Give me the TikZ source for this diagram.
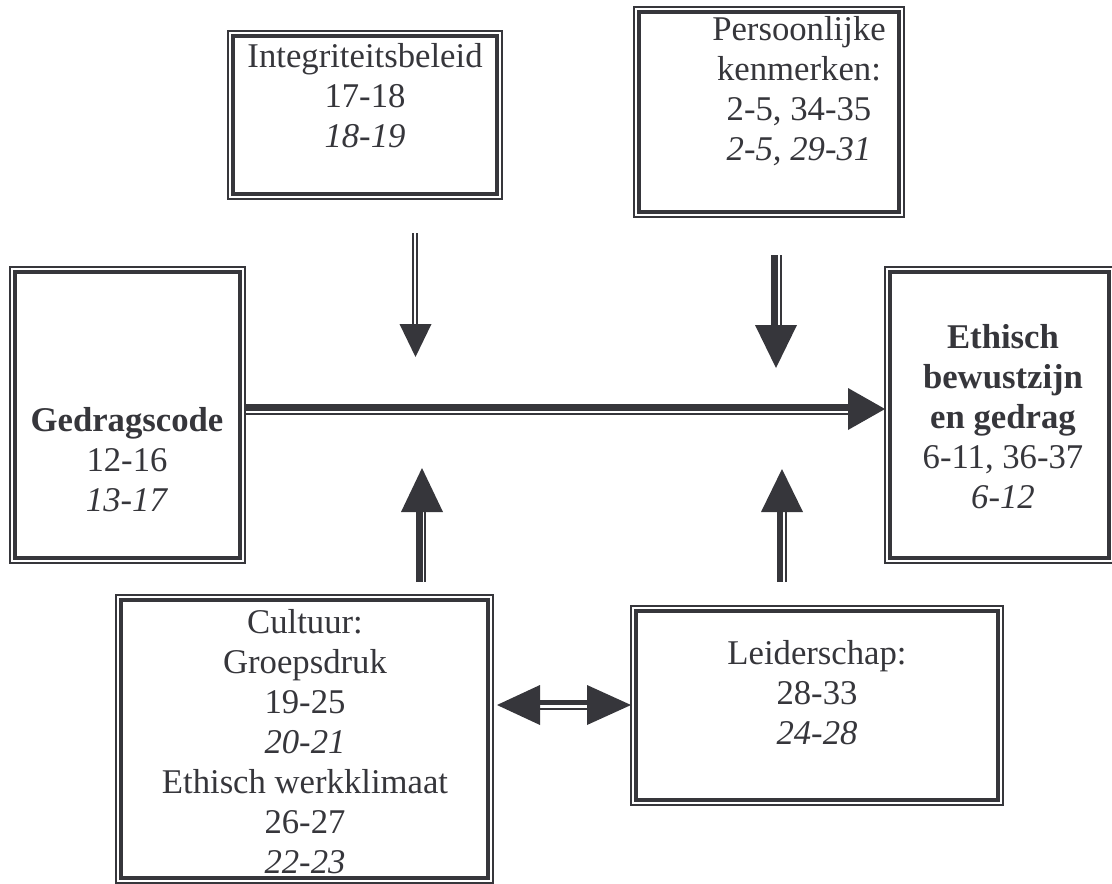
\documentclass[tikz,border=0pt]{standalone}
\usepackage{fontspec}
\setmainfont{Liberation Serif}
\definecolor{ink}{RGB}{54,54,59}
\begin{document}
\begin{tikzpicture}[x=1pt,y=-1pt,
  frame/.style={draw=ink,line width=1.6pt,inner sep=0pt,outer sep=0pt,anchor=north west},
  txt/.style={text=ink,align=center,inner sep=0pt,font=\fontsize{34.7pt}{40pt}\selectfont},
  heavy/.style={draw=ink,line width=6.5pt},
  light/.style={draw=ink,line width=2pt},
  tip/.style={fill=ink}]
\path[use as bounding box] (0,0) rectangle (1112,884);

% outer frames (thin line), named boxes
\node[frame,minimum width=274pt,minimum height=168pt] (bInt) at (228,31) {};
\node[frame,minimum width=270pt,minimum height=210pt] (bPer) at (634,7) {};
\node[frame,minimum width=235pt,minimum height=296pt] (bGed) at (10,267) {};
\node[frame,minimum width=229pt,minimum height=296pt] (bEth) at (885,267) {};
\node[frame,minimum width=377pt,minimum height=288pt] (bCul) at (116,595) {};
\node[frame,minimum width=372pt,minimum height=199pt] (bLei) at (631,606) {};

% inner frames (thick line)
\foreach \b in {bInt,bPer,bGed,bEth,bCul,bLei}
  \draw[ink,line width=4pt] ([shift={(5.3,5.3)}]\b.north west) rectangle ([shift={(-5.3,-5.3)}]\b.south east);

% texts
\node[txt] (tInt) at (365,96) {Integriteitsbeleid\\17-18\\\textit{18-19}};
\node[txt] (tPer) at (799,91) {Persoonlijke\\kenmerken:\\2-5, 34-35\\\textit{2-5, 29-31}};
\node[txt] (tGed) at (127,460) {\textbf{Gedragscode}\\12-16\\\textit{13-17}};
\node[txt] (tEth) at (1003,417) {\textbf{Ethisch}\\\textbf{bewustzijn}\\\textbf{en gedrag}\\6-11, 36-37\\\textit{6-12}};
\node[txt] (tCul) at (305,742) {Cultuur:\\Groepsdruk\\19-25\\\textit{20-21}\hspace{18pt}\\Ethisch werkklimaat\\26-27\\\textit{22-23}};
\node[txt] (tLei) at (817,693) {Leiderschap:\\28-33\\\textit{24-28}};

% connector end points
\coordinate (codeOut) at (bGed.east |- 0,409);
\coordinate (ethIn) at (bEth.west |- 0,409);
\coordinate (codeBase) at (848,409);

\coordinate (intS) at (415.5,233);
\coordinate (intB) at (415.5,324);
\coordinate (intT) at (415.5,357);

\coordinate (perS) at (776,255);
\coordinate (perB) at (776,325);
\coordinate (perT) at (776,368);

\coordinate (culS) at (422,582);
\coordinate (culB) at (422,512);
\coordinate (culT) at (422,468);

\coordinate (leiS) at (782,582);
\coordinate (leiB) at (782,512);
\coordinate (leiT) at (782,469);

\coordinate (culR) at (497,705);
\coordinate (leiL) at (bLei.west |- 0,705);
\coordinate (culRB) at (540,705);
\coordinate (leiLB) at (587,705);

% Gedragscode -> Ethisch bewustzijn
\draw[heavy] ([shift={(0,-1.5)}]codeOut) -- ([shift={(0,-1.5)}]codeBase);
\draw[light] ([shift={(0,5)}]codeOut) -- ([shift={(0,5)}]codeBase);
\fill[tip] ([shift={(0,-21)}]codeBase) -- (ethIn) -- ([shift={(0,21)}]codeBase) -- cycle;

% Integriteitsbeleid (down)
\draw[light] ([shift={(-2.5,0)}]intS) -- ([shift={(-2.5,0)}]intB);
\draw[light] ([shift={(1.5,0)}]intS) -- ([shift={(1.5,0)}]intB);
\fill[tip] ([shift={(-16,0)}]intB) -- (intT) -- ([shift={(16,0)}]intB) -- cycle;

% Persoonlijke kenmerken (down)
\draw[heavy,line width=7pt] ([shift={(-1.5,0)}]perS) -- ([shift={(-1.5,0)}]perB);
\draw[light] ([shift={(5,0)}]perS) -- ([shift={(5,0)}]perB);
\fill[tip] ([shift={(-21,0)}]perB) -- (perT) -- ([shift={(21,0)}]perB) -- cycle;

% Cultuur (up)
\draw[heavy,line width=7pt] ([shift={(-2.5,0)}]culS) -- ([shift={(-2.5,0)}]culB);
\draw[light] ([shift={(3,0)}]culS) -- ([shift={(3,0)}]culB);
\fill[tip] ([shift={(-21,0)}]culB) -- (culT) -- ([shift={(21,0)}]culB) -- cycle;

% Leiderschap (up)
\draw[heavy] ([shift={(-2,0)}]leiS) -- ([shift={(-2,0)}]leiB);
\draw[light] ([shift={(4,0)}]leiS) -- ([shift={(4,0)}]leiB);
\fill[tip] ([shift={(-21,0)}]leiB) -- (leiT) -- ([shift={(21,0)}]leiB) -- cycle;

% Cultuur <-> Leiderschap
\draw[heavy,line width=4.5pt] ([shift={(0,-2.75)}]culRB) -- ([shift={(0,-2.75)}]leiLB);
\draw[light,line width=2.5pt] ([shift={(0,3.75)}]culRB) -- ([shift={(0,3.75)}]leiLB);
\fill[tip] ([shift={(0,-20)}]culRB) -- (culR) -- ([shift={(0,20)}]culRB) -- cycle;
\fill[tip] ([shift={(0,-20)}]leiLB) -- (leiL) -- ([shift={(0,20)}]leiLB) -- cycle;
\end{tikzpicture}
\end{document}
